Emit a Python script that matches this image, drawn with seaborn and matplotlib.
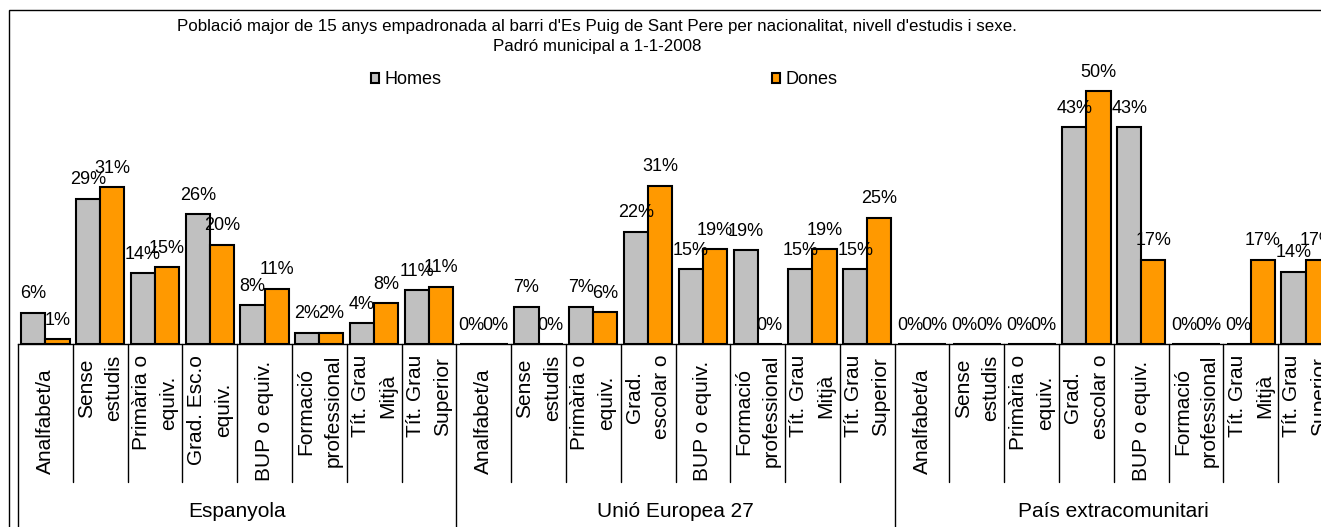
import matplotlib
matplotlib.use('Agg')
import matplotlib.pyplot as plt
import seaborn as sns
import pandas as pd
from matplotlib.patches import Patch, Rectangle

sns.set_style('white')
plt.rcParams['font.family'] = ['Liberation Sans', 'DejaVu Sans']
plt.rcParams['text.color'] = 'black'

# dades: percentatges per grup de nacionalitat i nivell d'estudis
grups = ['Espanyola', 'Unió Europea 27', 'País extracomunitari']
nivells_esp = ['Analfabet/a', 'Sense\nestudis', 'Primària o\nequiv.', 'Grad. Esc.o\nequiv.',
               'BUP o equiv.', 'Formació\nprofessional', 'Tít. Grau\nMitjà', 'Tít. Grau\nSuperior']
nivells_alt = ['Analfabet/a', 'Sense\nestudis', 'Primària o\nequiv.', 'Grad.\nescolar o',
               'BUP o equiv.', 'Formació\nprofessional', 'Tít. Grau\nMitjà', 'Tít. Grau\nSuperior']

homes_esp = [6.2, 28.7, 14.0, 25.6, 7.7, 2.2, 4.1, 10.6]
dones_esp = [1.0, 31.0, 15.2, 19.6, 10.9, 2.2, 8.1, 11.3]
homes_ue = [0, 7.41, 7.41, 22.22, 14.81, 18.52, 14.81, 14.81]
dones_ue = [0, 0, 6.25, 31.25, 18.75, 0, 18.75, 25.0]
homes_ext = [0, 0, 0, 42.86, 42.86, 0, 0, 14.29]
dones_ext = [0, 0, 0, 50.0, 16.67, 0, 16.67, 16.67]

colors = {'Homes': '#C0C0C0', 'Dones': '#FF9900'}

# taula llarga per a seaborn
nivells_per_grup = [nivells_esp, nivells_alt, nivells_alt]
valors_h = [homes_esp, homes_ue, homes_ext]
valors_d = [dones_esp, dones_ue, dones_ext]
files = []
claus = []
etiquetes = []
for g, nivs, vh, vd in zip(grups, nivells_per_grup, valors_h, valors_d):
    for n, h, d in zip(nivs, vh, vd):
        clau = g + '|' + n
        claus.append(clau)
        etiquetes.append(n)
        files.append({'clau': clau, 'sexe': 'Homes', 'valor': h})
        files.append({'clau': clau, 'sexe': 'Dones', 'valor': d})
df = pd.DataFrame(files)

fig = plt.figure(figsize=(13.21, 5.27), dpi=100)
ax = fig.add_axes([18 / 1321, 183 / 527, 1315 / 1321, 303.6 / 527])

sns.barplot(data=df, x='clau', y='valor', hue='sexe', order=claus,
            hue_order=['Homes', 'Dones'], palette=colors, saturation=1, width=0.88, gap=0,
            edgecolor='black', linewidth=1.5, errorbar=None, legend=False, ax=ax)

for cont in ax.containers:
    ax.bar_label(cont, fmt='{:.0f}%', padding=7.5, fontsize=13, color='black', clip_on=False)

ax.set_xlim(-0.5, len(claus) - 0.5)
ax.set_ylim(0, 60)
ax.set_xticks([])
ax.set_yticks([])
ax.set_xlabel('')
ax.set_ylabel('')
for s in ['top', 'left', 'right']:
    ax.spines[s].set_visible(False)
ax.spines['bottom'].set_color('black')
ax.spines['bottom'].set_linewidth(1)

# eix de categories en dos nivells
tr = ax.get_xaxis_transform()
for i in range(len(claus) + 1):
    baix = -0.7 if i % 8 == 0 else -0.4545
    ax.plot([i - 0.5, i - 0.5], [0, baix], color='black', lw=1, transform=tr, clip_on=False)

for i, et in enumerate(etiquetes):
    if '\n' in et:
        ax.text(i, -0.036, et, transform=tr, rotation=90, ha='center', va='top',
                multialignment='center', linespacing=1.55, fontsize=15)
    else:
        ax.text(i, -0.2536, et, transform=tr, rotation=90, ha='center', va='center',
                fontsize=15)

for k, g in enumerate(grups):
    ax.text(8 * k + 3.5, -0.553, g, transform=tr, ha='center', va='center', fontsize=15)

# títol
fig.text(597 / 1321, 1 - 26 / 527,
         "Població major de 15 anys empadronada al barri d'Es Puig de Sant Pere per nacionalitat, nivell d'estudis i sexe.",
         ha='center', va='center', fontsize=12.2)
fig.text(597 / 1321, 1 - 47 / 527, 'Padró municipal a 1-1-2008',
         ha='center', va='center', fontsize=12.2)

# llegenda
for nom, xpos in [('Homes', 371), ('Dones', 772)]:
    fig.legend(handles=[Patch(facecolor=colors[nom], edgecolor='black', linewidth=1.5, label=nom)],
               loc='center left', bbox_to_anchor=(xpos / 1321, 1 - 80 / 527), frameon=False,
               fontsize=13, handlelength=0.45, handleheight=0.45, handletextpad=0.3,
               borderpad=0, borderaxespad=0, labelcolor='black')

# marc del gràfic
fig.patches.append(Rectangle((9 / 1321, -0.1), 1.2, 1.081, transform=fig.transFigure,
                             fill=False, edgecolor='black', linewidth=1))

fig.savefig('out.png', dpi=100)
